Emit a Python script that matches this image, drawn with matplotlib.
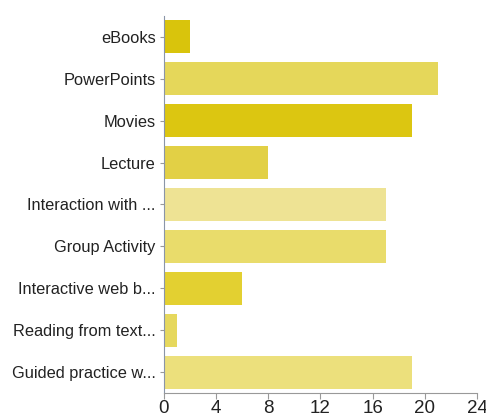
import matplotlib.pyplot as plt

categories = ['eBooks', 'PowerPoints', 'Movies', 'Lecture', 'Interaction with ...',
              'Group Activity', 'Interactive web b...', 'Reading from text...',
              'Guided practice w...']
counts = [2, 21, 19, 8, 17, 17, 6, 1, 19]
colors = ['#d9c40c', '#e5d75a', '#dcc611', '#e2d045', '#eee394',
          '#e9dc6b', '#e3d031', '#e6d85d', '#ece07c']
xticks = [0, 4, 8, 12, 16, 20, 24]

plt.rcParams['font.family'] = ['Liberation Sans', 'DejaVu Sans']

fig = plt.figure(figsize=(4.86, 4.19), dpi=100)
ax = fig.add_axes([0.3374, 0.062, 0.644, 0.900])

ypos = list(range(len(categories)))
ax.barh(ypos, counts, height=0.79, color=colors)
ax.set_ylim(len(categories) - 0.5, -0.5)
ax.set_xlim(0, 24)
ax.set_yticks(ypos)
ax.set_yticklabels(categories, fontsize=11.8, color='#222222')
ax.set_xticks(xticks)
ax.set_xticklabels([str(t) for t in xticks], fontsize=13.5, color='#222222')

for side in ['top', 'right']:
    ax.spines[side].set_visible(False)
ax.spines['left'].set_color('#8a95a8')
ax.spines['bottom'].set_color('#999999')
ax.tick_params(axis='y', length=3, color='#999999', pad=3)
ax.tick_params(axis='x', length=4, color='#999999', pad=1)

fig.savefig('out.png', dpi=100)
plt.close(fig)
